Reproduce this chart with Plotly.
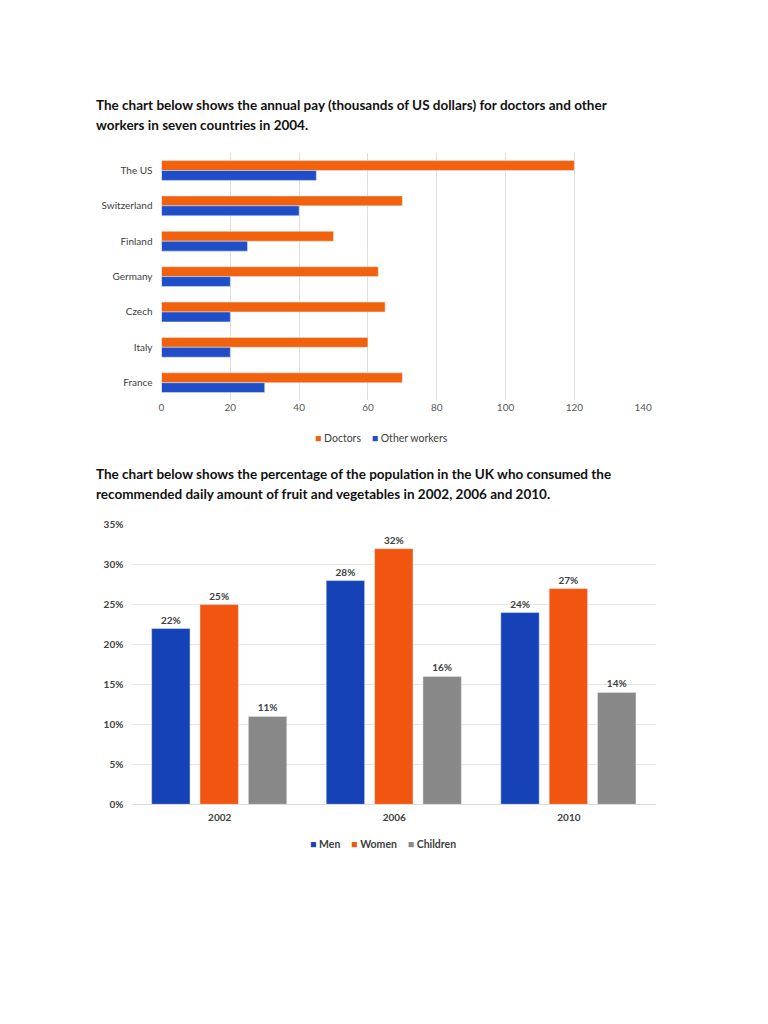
import plotly.graph_objects as go

# Chart 1: annual pay (thousands of US dollars), 2004
countries = ["The US", "Switzerland", "Finland", "Germany", "Czech", "Italy", "France"]
doctors = [120, 70, 50, 63, 65, 60, 70]
other_workers = [45, 40, 25, 20, 20, 20, 30]

# Chart 2: % of UK population eating recommended fruit & veg
years = ["2002", "2006", "2010"]
men = [22, 28, 24]
women = [25, 32, 27]
children = [11, 16, 14]

ORANGE = "#f2620c"
BLUE = "#1f4ec8"
FONT = "Lato"
W, H = 768, 1024


# the page is shown slightly shrunk and shifted, so map the
# reference pixel positions back to paper coordinates
def px(r):
    return (r - 12) / 0.981 / W


def py(r):
    return 1 - (r - 15.5) / 0.986 / H


fig = go.Figure()

# top chart - horizontal bars
fig.add_trace(go.Bar(
    y=countries, x=doctors, name="Doctors", orientation="h",
    marker_color=ORANGE, xaxis="x", yaxis="y",
))
fig.add_trace(go.Bar(
    y=countries, x=other_workers, name="Other workers", orientation="h",
    marker_color=BLUE, xaxis="x", yaxis="y",
))

# bottom chart - vertical bars with value labels
label_font = dict(family=FONT, size=10, color="#404040", weight="bold")
bottom = [
    ("Men", men, "#1542b6", -0.39),
    ("Women", women, "#f25510", -0.113),
    ("Children", children, "#888888", 0.164),
]
for name, vals, col, off in bottom:
    fig.add_trace(go.Bar(
        x=years, y=vals, name=name, marker_color=col,
        width=0.22, offset=off,
        text=[f"{v}%" for v in vals], textposition="outside", textfont=label_font,
        xaxis="x2", yaxis="y2", cliponaxis=False,
    ))

fig.update_layout(
    width=W, height=H,
    margin=dict(l=0, r=0, t=0, b=0),
    paper_bgcolor="white", plot_bgcolor="white",
    font=dict(family=FONT, color="#595959", size=10),
    barmode="group", bargap=0.44, bargroupgap=0.0,
    showlegend=False,
    xaxis=dict(
        domain=[px(162), px(642)], anchor="y", range=[0, 140], dtick=20,
        showgrid=True, gridcolor="#dedede", gridwidth=1, zeroline=False,
        showline=False, ticks="", tickfont=dict(size=10, color="#595959"),
    ),
    yaxis=dict(
        domain=[py(400), py(153)], anchor="x", autorange="reversed",
        showgrid=False, showline=False, ticks="", ticklabelstandoff=8,
        tickfont=dict(size=10, color="#404040"),
    ),
    xaxis2=dict(
        domain=[px(133), px(655)], anchor="y2", showgrid=False,
        showline=True, linecolor="#dcdcdc", ticks="", ticklabelstandoff=4,
        tickfont=dict(size=10, color="#404040", weight="bold"),
    ),
    yaxis2=dict(
        domain=[py(803), py(524)], anchor="x2", range=[0, 35], dtick=5,
        ticksuffix="%", showgrid=True, gridcolor="#e6e6e6", zeroline=False,
        showline=False, ticks="", ticklabelstandoff=8,
        tickfont=dict(size=10, color="#404040", weight="bold"),
    ),
)


# compact legends like the original (small squares close to the text)
def legend_text(items, bold):
    parts = []
    for name, col in items:
        lab = f"<b>{name}</b>" if bold else name
        parts.append(f"<span style='color:{col}'>■</span>&nbsp;{lab}")
    return "&nbsp;&nbsp;&nbsp;&nbsp;".join(parts)


fig.add_annotation(
    x=px(381), y=py(438), xref="paper", yref="paper", showarrow=False,
    xanchor="center", yanchor="middle",
    font=dict(family=FONT, size=10.5, color="#404040"),
    text=legend_text([("Doctors", ORANGE), ("Other workers", BLUE)], False),
)
fig.add_annotation(
    x=px(383), y=py(843), xref="paper", yref="paper", showarrow=False,
    xanchor="center", yanchor="middle",
    font=dict(family=FONT, size=10.5, color="#404040"),
    text=legend_text([(t[0], t[2]) for t in bottom], True),
)

title_font = dict(family=FONT, size=13.5, color="#111111", weight="bold")
titles = [
    (105, "The chart below shows the annual pay (thousands of US dollars) for doctors and other"),
    (125, "workers in seven countries in 2004."),
    (473, "The chart below shows the percentage of the population in the UK who consumed the"),
    (493, "recommended daily amount of fruit and vegetables in 2002, 2006 and 2010."),
]
for ty, txt in titles:
    fig.add_annotation(
        x=px(95), y=py(ty), xref="paper", yref="paper", xanchor="left", yanchor="middle",
        align="left", showarrow=False, font=title_font, text=txt,
    )

fig.write_html("out.html")
